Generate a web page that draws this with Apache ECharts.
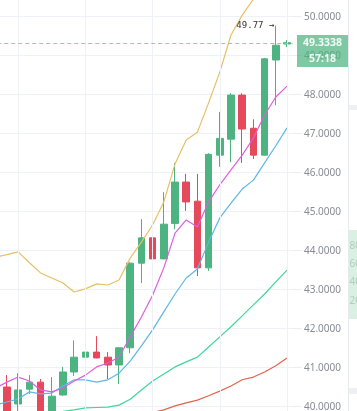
<!DOCTYPE html>
<html><head><meta charset="utf-8">
<script src="https://cdn.jsdelivr.net/npm/echarts@6/dist/echarts.min.js"></script>
<style>html,body{margin:0;padding:0;background:#fff}#c{width:357px;height:411px}</style>
</head><body><div id="c"></div>
<script>
const categories = ['1','2','3','4','5','6','7','8','9','10','11','12','13','14','15','16','17','18','19','20','21','22','23','24','25','26','27'];
const opens  = [40.20, 40.505, 40.07, 40.45, 40.63, 39.82, 40.30, 40.89, 41.27, 41.40, 41.27, 41.07, 41.51, 43.68, 44.33, 43.79, 44.70, 45.76, 45.27, 43.56, 46.45, 46.86, 47.99, 47.14, 46.45, 48.89, 49.30];
const closes = [40.55, 39.75, 40.43, 40.63, 39.80, 40.27, 40.89, 41.27, 41.40, 41.25, 41.07, 41.51, 43.68, 44.33, 43.79, 44.68, 45.76, 45.25, 43.56, 46.47, 46.88, 47.99, 47.12, 46.45, 48.92, 49.27, 49.3338];
const lows   = [40.10, 39.60, 39.89, 40.33, 39.70, 39.75, 40.28, 40.79, 40.97, 41.24, 40.71, 40.58, 41.37, 43.17, 42.86, 43.78, 44.55, 45.02, 43.35, 43.48, 46.15, 46.27, 46.25, 46.35, 46.44, 47.73, 49.22];
const highs  = [40.70, 40.81, 40.86, 40.81, 40.71, 40.76, 41.02, 41.70, 41.55, 41.81, 41.40, 41.52, 43.70, 44.81, 44.68, 45.50, 46.25, 45.97, 45.97, 46.50, 47.56, 48.04, 48.04, 47.37, 48.94, 49.77, 49.40];
const ma5    = [40.48, 40.63, 40.76, 40.66, 40.43, 40.38, 40.48, 40.66, 40.81, 41.02, 41.12, 41.27, 41.79, 42.30, 42.86, 43.56, 44.45, 44.79, 44.61, 45.25, 45.69, 46.07, 46.45, 46.89, 47.48, 47.94, 48.22];
const ma10   = [40.04, 40.12, 40.20, 40.38, 40.33, 40.35, 40.53, 40.69, 40.69, 40.63, 40.69, 40.86, 41.17, 41.56, 41.97, 42.43, 42.89, 43.30, 43.53, 44.22, 44.84, 45.22, 45.58, 45.81, 46.25, 46.69, 47.15];
const ma30   = [39.76, 39.78, 39.80, 39.82, 39.84, 39.86, 39.88, 39.92, 39.97, 39.98, 39.99, 40.04, 40.19, 40.43, 40.66, 40.84, 41.02, 41.15, 41.27, 41.53, 41.79, 42.05, 42.33, 42.61, 42.89, 43.20, 43.50];
const ma60   = [39.35, 39.38, 39.41, 39.44, 39.47, 39.50, 39.53, 39.56, 39.59, 39.62, 39.66, 39.70, 39.74, 39.79, 39.85, 39.92, 40.02, 40.10, 40.17, 40.28, 40.40, 40.53, 40.69, 40.76, 40.89, 41.05, 41.25];
const bollUp = [43.84, 43.90, 43.97, 43.69, 43.43, 43.30, 43.17, 42.94, 43.02, 43.15, 43.12, 43.25, 43.81, 44.22, 44.66, 45.25, 46.22, 46.84, 47.04, 47.79, 48.58, 49.53, 50.04, 50.45, 50.90, 51.30, 51.60];
const gridCols = [2, 8, 14, 20, 26];
const timerText = '57:18';
const sideTicks = ['80', '60', '40', '20'];

const GREEN = '#4db381', RED = '#e6495c';
const chart = echarts.init(document.getElementById('c'), null, {renderer: 'canvas'});
const candleData = categories.map((_, i) => [opens[i], closes[i], lows[i], highs[i]]);
const last = closes.length - 1;
const hiIdx = highs.indexOf(Math.max.apply(null, highs));

function lineSeries(name, data, color) {
  return {name, type: 'line', data, symbol: 'none', z: 4, silent: true,
    lineStyle: {color, width: 1.2}, itemStyle: {color}};
}

const graphic = [
  {type: 'line', shape: {x1: 348.5, y1: 0, x2: 348.5, y2: 411}, style: {stroke: '#e6e9ed', lineWidth: 1}},
  {type: 'rect', shape: {x: 349, y: 105, width: 8, height: 5}, style: {fill: '#eef0f3'}},
  {type: 'rect', shape: {x: 349, y: 230, width: 8, height: 89}, style: {fill: '#d9f0e3'}},
  {type: 'rect', shape: {x: 349, y: 388, width: 8, height: 6}, style: {fill: '#eef0f3'}}
];
sideTicks.forEach((t, i) => {
  graphic.push({type: 'text', x: 349.5, y: 246 + i * 18.3, z: 10,
    style: {text: t, fill: '#b3cdbd', fontSize: 10, fontFamily: 'Noto Sans', verticalAlign: 'middle'}});
});

const option = {
  animation: false,
  grid: {left: -9.8, right: 64.4, top: -22.3, bottom: -34.7, containLabel: false, outerBoundsMode: 'none'},
  xAxis: {type: 'category', data: categories, boundaryGap: true,
    axisLine: {show: false}, axisTick: {show: false}, axisLabel: {show: false}, splitLine: {show: false}},
  yAxis: {type: 'value', position: 'right', min: 39, max: 51, interval: 1,
    axisLine: {show: false},
    axisTick: {show: true, length: 9, lineStyle: {color: '#e9ecf0'}},
    axisLabel: {margin: 11.4, color: '#878c95', fontSize: 10, fontFamily: 'Noto Sans', formatter: v => v.toFixed(4)},
    splitLine: {lineStyle: {color: '#eef1f5', width: 1}}},
  graphic,
  series: [
    {name: 'cols', type: 'line', data: [], z: 1, silent: true,
      markLine: {silent: true, symbol: ['none', 'none'], label: {show: false},
        lineStyle: {color: '#eef1f5', width: 1, type: 'solid'},
        data: gridCols.map(i => ({xAxis: categories[i]}))}},
    {name: 'K', type: 'candlestick', data: candleData, barWidth: 7, z: 3,
      itemStyle: {color: GREEN, color0: RED, borderColor: GREEN, borderColor0: RED, borderWidth: 1},
      markLine: {silent: true, symbol: ['none', 'none'],
        lineStyle: {color: '#7ccda4', width: 1, type: [4, 3], opacity: 0.9},
        label: {show: true, position: 'end', distance: 4.4,
          formatter: () => '{s| }\n{a|' + closes[last].toFixed(4) + '}\n{b|' + timerText + '}',
          rich: {
            s: {height: 16.5, width: 51},
            a: {height: 16, width: 51, align: 'center', backgroundColor: 'rgba(76,180,128,0.8)', color: '#fff', fontWeight: 'bold', fontSize: 10.5, fontFamily: 'Noto Sans'},
            b: {height: 16, width: 51, align: 'center', backgroundColor: 'rgba(76,180,128,0.8)', color: '#fff', fontWeight: 'bold', fontSize: 10.5, fontFamily: 'Noto Sans'}
          }},
        data: [{yAxis: closes[last]}]},
      markPoint: {silent: true, symbol: 'circle', symbolSize: 1, itemStyle: {color: 'rgba(0,0,0,0)'},
        label: {show: true, position: 'left', distance: 1, color: '#333', fontSize: 9, fontFamily: 'DejaVu Sans Mono',
          formatter: () => highs[hiIdx].toFixed(2) + ' →'},
        data: [{coord: [categories[hiIdx], highs[hiIdx]], value: highs[hiIdx]}]}},
    lineSeries('BOLL', bollUp, '#e6c066'),
    lineSeries('MA60', ma60, '#e4624f'),
    lineSeries('MA30', ma30, '#3fd69b'),
    lineSeries('MA10', ma10, '#5db8e3'),
    lineSeries('MA5', ma5, '#dd5fe0')
  ]
};
chart.setOption(option);
</script></body></html>
